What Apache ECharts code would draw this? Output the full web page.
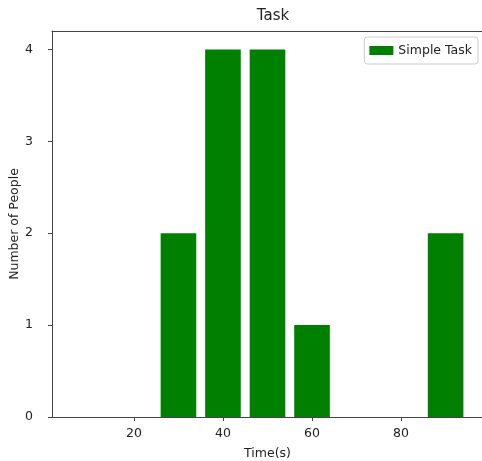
<!DOCTYPE html>
<html><head><meta charset="utf-8">
<script src="https://cdn.jsdelivr.net/npm/echarts@6/dist/echarts.min.js"></script>
<style>html,body{margin:0;padding:0;background:#fff}#c{width:482px;height:461px}</style>
</head><body><div id="c"></div>
<script>
const times = [10, 20, 30, 40, 50, 60, 70, 80, 90];
const people = [0, 0, 2, 4, 4, 1, 0, 0, 2];
const xTicks = [20, 40, 60, 80];
const yTicks = [0, 1, 2, 3, 4];
const seriesName = 'Simple Task';

const xMin = 1.6, xMax = 98.4, barUnits = 8;
const gridW = 431;
const chart = echarts.init(document.getElementById('c'));
const font = 'DejaVu Sans';
const spine = { show: true, lineStyle: { color: '#444', width: 1 } };
chart.setOption({
  animation: false,
  title: { text: 'Task', left: 268, top: 4, textAlign: 'center',
    textStyle: { fontFamily: font, fontSize: 15, fontWeight: 'normal', color: '#222' } },
  legend: { right: 4, top: 37, orient: 'vertical', itemWidth: 24, itemHeight: 9,
    padding: [7, 6, 7, 5], itemGap: 4,
    borderColor: '#ccc', borderWidth: 1, borderRadius: 3,
    textStyle: { fontFamily: font, fontSize: 12.5, color: '#222' },
    data: [{ name: seriesName, icon: 'rect' }] },
  grid: { left: 52, top: 31, width: gridW, height: 386, show: false,
    outerBoundsMode: 'none', containLabel: false },
  xAxis: [{ type: 'value', min: xMin, max: xMax,
    name: 'Time(s)', nameLocation: 'middle', nameGap: 30, nameMoveOverlap: false,
    nameTextStyle: { fontFamily: font, fontSize: 12.5, color: '#222' },
    splitLine: { show: false },
    axisLine: spine,
    axisTick: { show: true, inside: false, length: 4, lineStyle: { color: '#444' },
      customValues: xTicks },
    axisLabel: { fontFamily: font, fontSize: 12.5, color: '#222', margin: 10,
      customValues: xTicks } },
    { type: 'value', position: 'top', min: xMin, max: xMax,
      splitLine: { show: false }, axisLine: spine,
      axisTick: { show: false }, axisLabel: { show: false } }],
  yAxis: { type: 'value', min: 0, max: 4.2,
    name: 'Number of People', nameLocation: 'middle', nameGap: 31, nameMoveOverlap: false,
    nameTextStyle: { fontFamily: font, fontSize: 12.5, color: '#222' },
    splitLine: { show: false },
    axisLine: spine,
    axisTick: { show: true, length: 4, lineStyle: { color: '#444' }, customValues: yTicks },
    axisLabel: { fontFamily: font, fontSize: 12.5, color: '#222', margin: 19, customValues: yTicks } },
  series: [{ name: seriesName, type: 'bar', xAxisIndex: 0,
    data: times.map((t, i) => [t, people[i]]),
    barWidth: gridW * barUnits / (xMax - xMin),
    itemStyle: { color: '#008000' } }]
});
</script></body></html>
